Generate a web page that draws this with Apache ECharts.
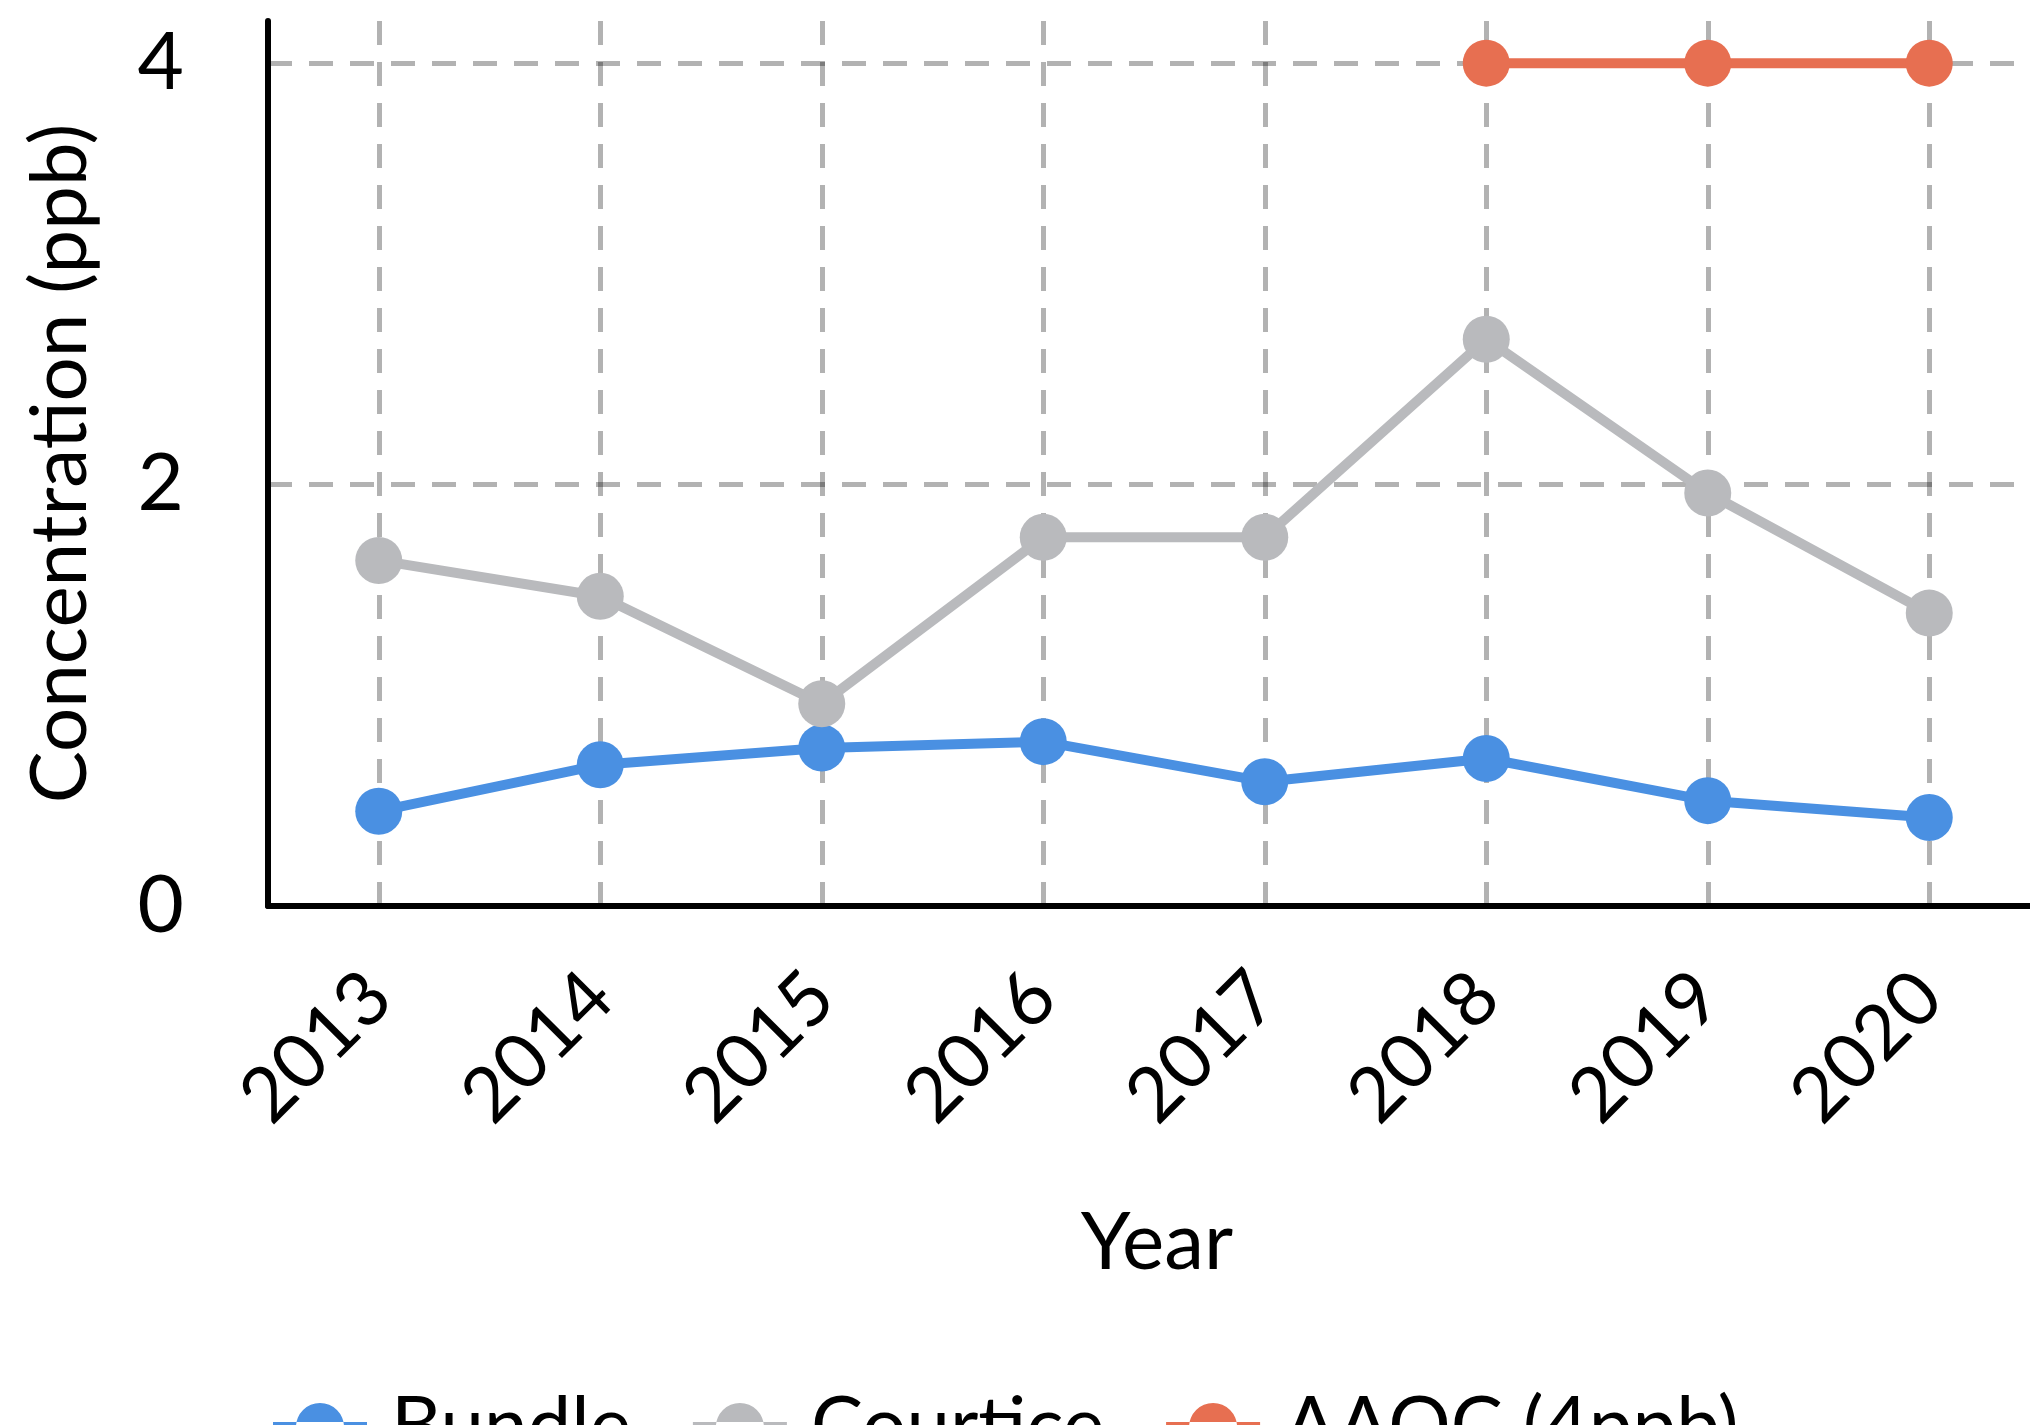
<!DOCTYPE html>
<html>
<head>
<meta charset="utf-8">
<script src="https://cdn.jsdelivr.net/npm/echarts@6/dist/echarts.min.js"></script>
<style>
html,body{margin:0;padding:0;background:#fff;}
#chart{width:2030px;height:1425px;}
</style>
</head>
<body>
<div id="chart"></div>
<script>
const years = ['2013','2014','2015','2016','2017','2018','2019','2020'];
const bundle = [0.45, 0.67, 0.75, 0.78, 0.59, 0.70, 0.50, 0.42];
const courtice = [1.64, 1.47, 0.96, 1.75, 1.75, 2.69, 1.96, 1.39];
const aaqc = ['-', '-', '-', '-', '-', 4, 4, 4];
const seriesNames = ['Bundle', 'Courtice', 'AAQC (4ppb)'];
const colors = ['#4A90E2', '#B9BABD', '#E76F51'];

const FONT = 'Lato';
// legend icon: line segment with a filled circle (94 x 48 box)
const LEGEND_ICON = 'path://M0,19L94,19L94,29L0,29Z M23,24A24,24 0 1,0 71,24A24,24 0 1,0 23,24Z';

const chart = echarts.init(document.getElementById('chart'), null, {renderer: 'canvas'});

function lineSeries(name, data, color) {
  return {
    name: name,
    type: 'line',
    data: data,
    symbol: 'circle',
    symbolSize: 47,
    color: color,
    lineStyle: {color: color, width: 10},
    itemStyle: {color: color},
    emphasis: {disabled: true},
    animation: false
  };
}

const gridLineStyle = {color: 'rgba(0,0,0,0.3)', width: 5, type: [24, 17]};

chart.setOption({
  backgroundColor: '#fff',
  animation: false,
  textStyle: {fontFamily: FONT},
  grid: {left: 268, top: 21, height: 885, width: 1772, containLabel: false, outerBoundsMode: 'none'},
  legend: {
    data: seriesNames.map(n => ({name: n, icon: LEGEND_ICON})),
    left: 268,
    top: 1383,
    itemWidth: 94,
    itemHeight: 48,
    itemGap: 62,
    textStyle: {fontFamily: FONT, fontSize: 78, color: '#000', padding: [0, 0, 0, 19]}
  },
  xAxis: {
    type: 'category',
    data: years,
    boundaryGap: true,
    name: 'Year',
    nameLocation: 'middle',
    nameGap: 297,
    nameTextStyle: {fontFamily: FONT, fontSize: 80, color: '#000', padding: [0, 0, 0, 6]},
    axisLine: {show: true, lineStyle: {color: '#000', width: 6}},
    axisTick: {show: false},
    axisLabel: {
      rotate: 45, fontFamily: FONT, fontSize: 76, color: '#000',
      margin: 79, interval: 0
    },
    splitLine: {show: true, alignWithLabel: true, interval: 0, lineStyle: gridLineStyle}
  },
  yAxis: {
    type: 'value',
    min: 0, max: 4.2, interval: 2,
    name: 'Concentration (ppb)',
    nameLocation: 'middle',
    nameGap: 168,
    nameTextStyle: {fontFamily: FONT, fontSize: 78, color: '#000'},
    axisLine: {show: true, lineStyle: {color: '#000', width: 6}},
    axisTick: {show: false},
    axisLabel: {fontFamily: FONT, fontSize: 80, color: '#000', margin: 84, showMaxLabel: false},
    splitLine: {show: true, showMinLine: false, showMaxLine: false, lineStyle: gridLineStyle}
  },
  series: [
    lineSeries(seriesNames[0], bundle, colors[0]),
    lineSeries(seriesNames[1], courtice, colors[1]),
    lineSeries(seriesNames[2], aaqc, colors[2])
  ]
});
</script>
</body>
</html>
